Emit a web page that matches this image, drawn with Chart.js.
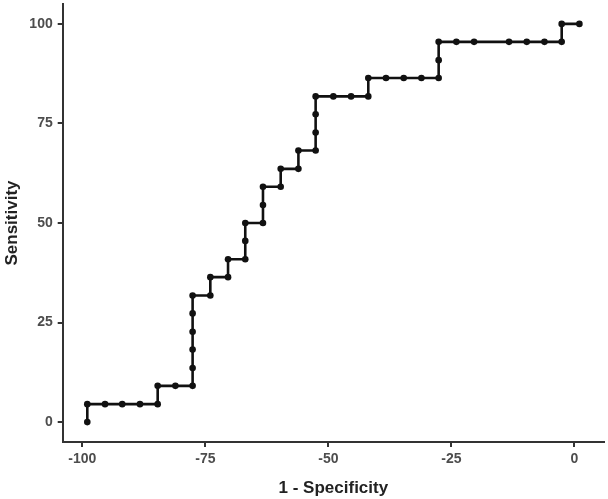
<!DOCTYPE html>
<html>
<head>
<meta charset="utf-8">
<script src="https://cdn.jsdelivr.net/npm/chart.js@4/dist/chart.umd.min.js"></script>
<style>
  html, body { margin: 0; padding: 0; background: #fff; }
  #holder { width: 608px; height: 499px; }
</style>
</head>
<body>
<div id="holder"><canvas id="rocChart"></canvas></div>
<script>
/******************************************************************
DATA
******************************************************************/

// 1 - specificity for each point, in drawing order
var specValues = [-99, -99, -95.4, -91.9, -88.3, -84.7, -84.7, -81.1, -77.6, -77.6,
  -77.6, -77.6, -77.6, -77.6, -74, -74, -70.4, -70.4, -66.9, -66.9,
  -66.9, -63.3, -63.3, -63.3, -59.7, -59.7, -56.1, -56.1, -52.6, -52.6,
  -52.6, -52.6, -49, -45.4, -41.9, -41.9, -38.3, -34.7, -31.1, -27.6,
  -27.6, -27.6, -24, -20.4, -13.3, -9.7, -6.1, -2.6, -2.6, 1];

// sensitivity for each point
var sensValues = [0, 4.5, 4.5, 4.5, 4.5, 4.5, 9.1, 9.1, 9.1, 13.6,
  18.2, 22.7, 27.3, 31.8, 31.8, 36.4, 36.4, 40.9, 40.9, 45.5,
  50, 50, 54.5, 59.1, 59.1, 63.6, 63.6, 68.2, 68.2, 72.7,
  77.3, 81.8, 81.8, 81.8, 81.8, 86.4, 86.4, 86.4, 86.4, 86.4,
  90.9, 95.5, 95.5, 95.5, 95.5, 95.5, 95.5, 95.5, 100, 100];

var xTicks = [-100, -75, -50, -25, 0];
var yTicks = [0, 25, 50, 75, 100];

/******************************************************************
CHART
******************************************************************/

var points = [];
for (var i = 0; i < specValues.length; i++) {
  points.push({ x: specValues[i], y: sensValues[i] });
}

var tickFont = { family: "Liberation Sans", size: 14, weight: "bold" };
var titleFont = { family: "Liberation Sans", size: 17, weight: "bold" };

function fixTicks(list) {
  return function (scale) {
    scale.ticks = list.map(function (v) { return { value: v }; });
  };
}

var ctx = document.getElementById("rocChart").getContext("2d");
new Chart(ctx, {
  type: "scatter",
  data: {
    datasets: [{
      data: points,
      showLine: true,
      tension: 0,
      borderColor: "#111",
      borderWidth: 2.6,
      backgroundColor: "#111",
      pointRadius: 3.3,
      pointBorderWidth: 0
    }]
  },
  options: {
    responsive: true,
    maintainAspectRatio: false,
    animation: false,
    layout: { padding: { top: 2, right: 0, left: 0, bottom: 0 } },
    plugins: {
      legend: { display: false },
      tooltip: { enabled: false }
    },
    scales: {
      x: {
        type: "linear",
        min: -104,
        max: 6,
        afterBuildTicks: fixTicks(xTicks),
        afterFit: function (scale) {
          scale.height = 57;
          scale.paddingLeft = 0;
          scale.paddingRight = 0;
        },
        border: { display: true, color: "#333", width: 2 },
        grid: { drawOnChartArea: false, drawTicks: true, tickLength: 5, color: "#333", lineWidth: 2 },
        ticks: { color: "#4d4d4d", font: tickFont, padding: 4, maxRotation: 0 },
        title: { display: true, text: "1 - Specificity", color: "#222", font: titleFont, padding: { top: 2, bottom: 0 } }
      },
      y: {
        type: "linear",
        min: -5,
        max: 105,
        afterBuildTicks: fixTicks(yTicks),
        afterFit: function (scale) {
          scale.width = 62.7;
          scale.paddingTop = 0;
          scale.paddingBottom = 0;
        },
        border: { display: true, color: "#333", width: 2 },
        grid: { drawOnChartArea: false, drawTicks: true, tickLength: 5, color: "#333", lineWidth: 2 },
        ticks: { color: "#4d4d4d", font: tickFont, padding: 5 },
        title: { display: true, text: "Sensitivity", color: "#222", font: titleFont, padding: { top: 2, bottom: 4 } }
      }
    }
  }
});
</script>
</body>
</html>
